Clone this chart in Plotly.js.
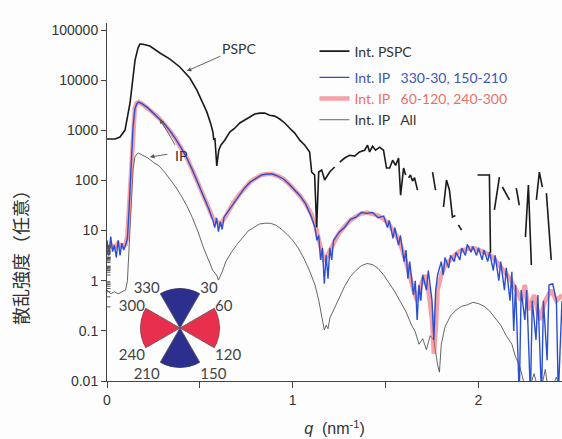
<!DOCTYPE html>
<html>
<head>
<meta charset="utf-8">
<script src="https://cdn.plot.ly/plotly-3.0.1.min.js"></script>
<style>
html,body{margin:0;padding:0;background:#fdfdfd;}
#chart{width:562px;height:439px;}
</style>
</head>
<body>
<div id="chart"></div>
<script>
// ---- data ----
const qPSPC = [0,0.043,0.07,0.097,0.124,0.14,0.151,0.167,0.177,0.194,0.231,0.285,0.339,0.392,0.446,0.484,0.516,0.538,0.559,0.57,0.575,0.581,0.591,0.602,0.613,0.634,0.661,0.688,0.715,0.742,0.769,0.796,0.823,0.849,0.876,0.903,0.93,0.957,0.984,1.011,1.038,1.065,1.091,1.102,1.118,1.129,1.14,1.156,1.172,1.199,1.226,1.24,1.253,1.28,1.306,1.333,1.36,1.387,1.403,1.414,1.43,1.446,1.468,1.489,1.505,1.522,1.538,1.554,1.57,1.581,1.597,1.608,1.616,1.624,1.634,1.645,1.656,1.672,1.70,1.753,1.769,1.79,1.812,1.828,1.844,1.86,1.876,1.884,1.892,1.909,1.95,1.995,2.059,2.065,2.075,2.086,2.113,2.12,2.129,2.167,2.185,2.204,2.22,2.24,2.253,2.269,2.285,2.3,2.312,2.328,2.344,2.355,2.366,2.392];
const iPSPC = [670,670,735,1010,3500,10000,25100,43700,52500,52000,48000,34800,26300,18300,11000,6300,3500,2300,1330,925,645,700,195,400,505,635,925,1100,1400,1590,1840,2110,2200,2200,2000,1920,1680,1400,1100,880,635,505,370,147,128,11.7,147,161,102,147,185,null,233,280,318,305,370,400,505,370,480,400,460,400,177,177,253,200,280,51,177,128,null,113,128,97,113,64,null,147,64,null,29.5,102,64,18.7,20,null,13,10.2,null,128,128,3.6,null,26,117,null,74,41,null,70,32,null,7.4,81,2.06,null,41,147,74,null,56,2.6];

const qBlue = [0,0.01,0.02,0.03,0.04,0.05,0.06,0.07,0.08,0.09,0.10,0.11,0.12,0.13,0.14,0.15,0.16,0.17,0.19,0.22,0.25,0.28,0.31,0.34,0.37,0.40,0.43,0.46,0.49,0.52,0.55,0.57,0.58,0.59,0.60,0.61,0.62,0.63,0.65,0.68,0.71,0.74,0.77,0.80,0.83,0.86,0.89,0.92,0.95,0.98,1.01,1.04,1.07,1.10,1.12,1.13,1.14,1.15,1.16,1.17,1.18,1.19,1.20,1.21,1.22,1.25,1.28,1.31,1.34,1.37,1.40,1.43,1.46,1.49,1.51,1.52,1.54,1.55,1.57,1.58,1.60,1.61,1.62,1.63,1.65,1.66,1.67,1.68,1.69,1.70,1.72,1.73,1.75,1.76,1.77,1.78,1.80,1.81,1.82,1.84,1.85,1.87,1.88,1.90,1.91,1.93,1.94,1.96,1.97,1.99,2.00,2.02,2.03,2.05,2.06,2.08,2.09,2.11,2.12,2.14,2.15,2.17,2.18,2.19,2.20,2.22,2.23,2.25,2.26,2.28,2.29,2.31,2.32,2.34,2.35,2.37,2.38,2.40,2.42,2.43,2.45];
const iBlue = [6.4,3.2,7.6,3.8,5.1,2.9,6.4,3.2,5.6,4.1,5.1,7,32,200,1150,2650,3350,3650,3350,2800,2200,1750,1330,960,670,440,280,161,89,47,26,16,11.5,18,9.5,15,10.5,18.5,23.5,35.5,51,70,92,110,128,134,134,122,107,85,64,49,34,19,11.5,6.4,8,2.6,4.5,0.87,3.2,1.1,4.5,2.6,6.4,9.3,11.7,16.5,18.5,23,22,23,18,19.5,11.5,16,7,11.5,5.1,8,2.4,4.1,1.1,2.4,0.52,1.0,0.165,0.82,0.4,1.3,0.65,1.6,0.4,0.066,0.65,1.3,2.4,1.3,2.9,1.8,3.2,2.4,3.7,2.6,4.5,3.2,5.3,3.7,4.8,3.2,4.5,2.6,4.1,2.4,3.7,1.6,3.2,1.0,2.4,0.65,1.8,0.4,1.5,0.1,0.82,0.005,0.65,0.165,0.65,0.005,0.4,0.066,0.52,0.005,0.4,0.026,0.82,0.87,0.4,0.005,0.4];

const qRed = [0,0.02,0.04,0.06,0.08,0.10,0.11,0.12,0.13,0.14,0.15,0.16,0.17,0.19,0.22,0.25,0.28,0.31,0.34,0.37,0.40,0.43,0.46,0.49,0.52,0.55,0.57,0.59,0.61,0.63,0.65,0.68,0.71,0.74,0.77,0.80,0.83,0.86,0.89,0.92,0.95,0.98,1.01,1.04,1.07,1.10,1.12,1.14,1.16,1.17,1.18,1.20,1.22,1.25,1.28,1.31,1.34,1.37,1.40,1.43,1.46,1.49,1.52,1.55,1.57,1.59,1.61,1.63,1.65,1.67,1.69,1.71,1.73,1.75,1.76,1.77,1.78,1.80,1.82,1.84,1.87,1.90,1.93,1.96,1.99,2.02,2.05,2.08,2.11,2.14,2.17,2.20,2.23,2.25,2.27,2.30,2.33,2.36,2.39,2.42,2.45];
const iRed = [4.1,5.1,4.6,5.6,4.8,5.3,8,41,253,1260,2800,3500,3650,3350,2800,2200,1750,1330,960,670,440,280,161,89,47,26,18,15,13.5,17,23.5,35.5,51,70,92,110,128,134,134,122,107,85,64,49,34,21.5,13.5,7.2,3.2,2.4,2.9,4.1,5.9,8.9,12.2,16,19,22,23,22,20,17,13,9,6.5,4.1,2.4,1.3,0.65,0.4,0.82,1.3,0.65,0.165,0.035,0.1,0.65,1.3,2.0,2.4,3.2,3.9,4.3,4.5,4.3,3.9,3.4,2.9,2.1,1.6,1.1,0.7,0.4,0.82,0.26,0.52,0.165,0.4,0.65,0.4,0.52];

const qAll = [0,0.02,0.04,0.06,0.08,0.10,0.11,0.12,0.13,0.14,0.15,0.16,0.17,0.19,0.22,0.25,0.28,0.31,0.34,0.37,0.40,0.43,0.46,0.49,0.52,0.55,0.57,0.59,0.60,0.61,0.62,0.64,0.67,0.70,0.73,0.76,0.79,0.82,0.85,0.88,0.91,0.94,0.97,1.00,1.03,1.06,1.09,1.12,1.14,1.16,1.17,1.18,1.19,1.20,1.22,1.25,1.28,1.31,1.34,1.37,1.40,1.43,1.46,1.49,1.52,1.55,1.58,1.61,1.64,1.66,1.68,1.70,1.72,1.74,1.76,1.78,1.79,1.80,1.82,1.85,1.88,1.91,1.94,1.97,2.00,2.03,2.06,2.09,2.12,2.15,2.18,2.20,2.22,2.24,2.26,2.30,2.33,2.36,2.38,2.42,2.45];
const iAll = [0.65,0.55,0.6,0.55,0.6,0.65,1.0,5.1,32,161,290,335,350,318,280,230,195,147,107,74,49,31,18,9.5,4.5,2.4,1.6,1.3,1.03,1.25,1.5,2.4,3.7,5.3,7.4,9.8,11.5,13.5,14,14,12.8,10.6,8.4,6.4,4.5,2.8,1.6,0.82,0.41,0.18,0.104,0.13,0.11,0.18,0.26,0.47,0.78,1.2,1.6,2.0,2.2,2.1,1.75,1.3,0.9,0.6,0.38,0.24,0.13,0.095,0.054,0.07,0.042,0.08,0.066,0.021,0.015,0.054,0.12,0.2,0.26,0.31,0.33,0.37,0.35,0.31,0.25,0.18,0.13,0.08,0.054,0.03,0.021,0.011,0.005,0.014,0.005,0.017,0.005,0.012,0.005];

const seriesNames = ['Int. PSPC', 'Int. IP\u00a0\u00a0 330-30, 150-210', 'Int. IP\u00a0\u00a0 60-120, 240-300', 'Int. IP\u00a0\u00a0 All'];

const yTickVals = [0.01,0.1,1,10,100,1000,10000,100000];
const yTickText = ['0.01','0.1','1','10','100','1000','10000','100000'];
const xTickVals = [0,0.5,1,1.5,2];
const xTickText = ['0','','1','','2'];
const minorMultipliers = [2,3,4,5,6,7,8,9];

// inset: azimuthal sectors (degrees)
const sectorCenters = [0,180,90,270];
const sectorWidths = [60,60,60,60];
const sectorColors = ['#2d2f8e','#2d2f8e','#e8304e','#e8304e'];
const sectorTickVals = [330,30,60,120,150,210,240,300];
const sectorTickText = ['330','30','60','120','150','210','240','300'];

// minor log tick marks (axis decoration): short inside ticks at 2..9 of each decade
const yMinor = [];
yTickVals.slice(0,-1).forEach(d => minorMultipliers.forEach(m => yMinor.push(d*m)));
const minorTickShapes = yMinor.map(v => ({
  type:'line', xref:'paper', yref:'y', xsizemode:'pixel', xanchor:0, x0:0, x1:3.5,
  y0:Math.log10(v), y1:Math.log10(v), line:{color:'#555', width:1}, layer:'above'
}));

// ---- traces ----
const traces = [
  {x:qAll, y:iAll, type:'scatter', mode:'lines', name:seriesNames[3], legendrank:4, legendgroup:'b',
   line:{color:'#555', width:0.9}, connectgaps:false},
  {x:qRed, y:iRed, type:'scatter', mode:'lines', name:'<span style="color:#ec6f66">'+seriesNames[2]+'</span>', legendrank:3, legendgroup:'b',
   line:{color:'rgba(238,70,80,0.5)', width:4.5}, connectgaps:false},
  {x:qBlue, y:iBlue, type:'scatter', mode:'lines', name:'<span style="color:#3c55b8">'+seriesNames[1]+'</span>', legendrank:2, legendgroup:'b',
   line:{color:'#2b4fd0', width:1.4}, connectgaps:false},
  {x:qPSPC, y:iPSPC, type:'scatter', mode:'lines', name:seriesNames[0], legendrank:1, legendgroup:'a',
   line:{color:'#1a1a1a', width:1.6}, connectgaps:false},
  {type:'barpolar', r:[1,1,1,1], theta:sectorCenters, width:sectorWidths, subplot:'polar', showlegend:false,
   marker:{color:sectorColors, line:{color:'#555', width:0.8}}, hoverinfo:'skip'}
];

const layout = {
  width:562, height:439,
  paper_bgcolor:'#fdfdfd', plot_bgcolor:'rgba(0,0,0,0)',
  margin:{l:107, r:0, t:23, b:58},
  showlegend:true,
  hovermode:false,
  font:{family:'Lato, "Liberation Sans", sans-serif', color:'#333'},
  xaxis:{
    range:[0,2.45], showgrid:false, zeroline:false,
    showline:true, linecolor:'#444', linewidth:1,
    ticks:'outside', ticklen:6, tickcolor:'#444',
    tickvals:xTickVals, ticktext:xTickText,
    tickfont:{family:'"Liberation Sans", Arial, sans-serif', size:14, color:'#333'},
    title:{text:'<i>q</i>\u00a0 (nm<sup>-1</sup>)', font:{family:'"Liberation Sans", Arial, sans-serif', size:16, color:'#333'}, standoff:16}
  },
  yaxis:{
    type:'log', range:[-2,5.14], showgrid:false, zeroline:false,
    showline:true, linecolor:'#444', linewidth:1,
    ticks:'outside', ticklen:5, tickcolor:'#444',
    tickmode:'array', tickvals:yTickVals, ticktext:yTickText,
    tickfont:{family:'"Liberation Sans", Arial, sans-serif', size:14, color:'#333'}
  },
  shapes:minorTickShapes,
  legend:{
    x:0.456, y:0.965, xanchor:'left', yanchor:'top',
    bgcolor:'rgba(0,0,0,0)', borderwidth:0,
    font:{family:'Lato, sans-serif', size:14, color:'#333'},
    traceorder:'grouped', tracegroupgap:5
  },
  polar:{
    domain:{x:[0.0725,0.2484], y:[0.0363,0.2598]},
    bgcolor:'rgba(0,0,0,0)',
    radialaxis:{visible:false, range:[0,1]},
    angularaxis:{rotation:90, direction:'clockwise', showgrid:false, showline:false, ticks:'',
      tickvals:sectorTickVals, ticktext:sectorTickText,
      tickfont:{family:'Lato, sans-serif', size:15, color:'#444'}}
  },
  annotations:[
    {x:0.43, y:Math.log10(15200), xref:'x', yref:'y', text:'PSPC', showarrow:true,
     ax:52, ay:-23, arrowhead:2, arrowsize:1, arrowwidth:0.9, arrowcolor:'#555',
     font:{family:'Lato, sans-serif', size:14, color:'#333'}},
    {x:0.285, y:Math.log10(1680), xref:'x', yref:'y', text:'IP', showarrow:true,
     ax:21, ay:36, arrowhead:2, arrowsize:1, arrowwidth:0.9, arrowcolor:'#555',
     font:{family:'Lato, sans-serif', size:14, color:'#333'}},
    {x:0.231, y:Math.log10(293), xref:'x', yref:'y', text:'', showarrow:true,
     ax:19, ay:-3, arrowhead:2, arrowsize:1, arrowwidth:0.9, arrowcolor:'#555'},
    {x:-0.191, y:0.3575, xref:'paper', yref:'paper', text:'散乱強度（任意）', showarrow:false,
     textangle:-90, xanchor:'center', yanchor:'middle',
     font:{family:'"Noto Sans CJK JP", sans-serif', size:18, color:'#333'}}
  ]
};

Plotly.newPlot('chart', traces, layout, {staticPlot:true, displayModeBar:false});
</script>
</body>
</html>
